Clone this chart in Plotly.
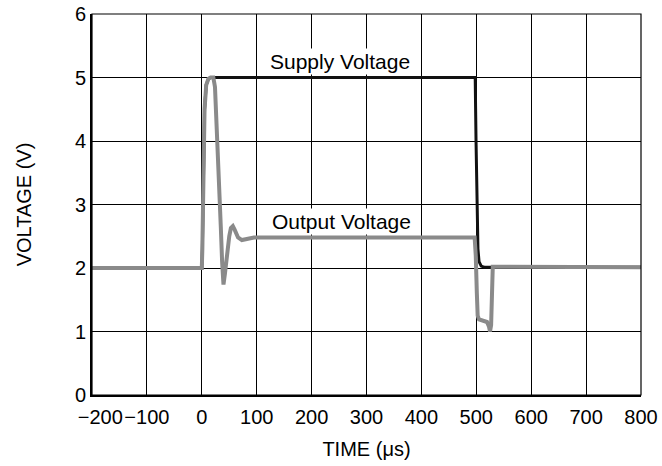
import plotly.graph_objects as go

# Data
supply_t = [-200, 0, 1, 3, 5, 8, 12, 16, 498, 499.5, 501, 503, 505, 509, 515, 800]
supply_v = [2.0, 2.0, 2.3, 3.5, 4.5, 4.88, 4.98, 5.0, 5.0, 4.0, 3.0, 2.3, 2.1, 2.03, 2.01, 2.01]

output_t = [-200, 0, 1, 3, 5, 8, 12, 16, 21, 24, 27, 30, 34.6, 37, 39.5, 42, 45.5, 50,
            53, 56.5, 60, 66, 73, 80, 85, 95, 497, 499, 501, 502.5, 505, 510.5, 519.5,
            523, 525, 527, 528.5, 530, 540, 800]
output_v = [2.0, 2.0, 2.3, 3.5, 4.5, 4.88, 4.98, 5.0, 5.0, 4.85, 4.3, 3.7, 2.65, 2.1, 1.74, 1.9,
            2.2, 2.5, 2.63, 2.66, 2.6, 2.48, 2.44, 2.45, 2.47, 2.48, 2.48, 2.2, 1.6, 1.25, 1.19,
            1.17, 1.15, 1.08, 1.0, 1.1, 1.6, 2.02, 2.02, 2.01]

x_ticks = [-200, -100, 0, 100, 200, 300, 400, 500, 600, 700, 800]
NB = "\u00a0"
x_ticktext = [NB * 3 + "\u2212200", "\u2212100", "0", "100", "200", "300",
              "400", "500", "600", "700", "800"]
y_ticks = [0, 1, 2, 3, 4, 5, 6]

FONT = "Liberation Sans, Arial, Helvetica, sans-serif"
FS = 20

fig = go.Figure()
fig.add_trace(go.Scatter(x=supply_t, y=supply_v, mode="lines",
                         line=dict(color="#111111", width=3), name="Supply Voltage",
                         hoverinfo="x+y"))
fig.add_trace(go.Scatter(x=output_t, y=output_v, mode="lines",
                         line=dict(color="#8a8a8a", width=4), name="Output Voltage",
                         hoverinfo="x+y"))

fig.add_annotation(x=252, y=5.25, text="Supply Voltage", showarrow=False,
                   bgcolor="white", font=dict(family=FONT, size=21, color="black"))
fig.add_annotation(x=254, y=2.73, text="Output Voltage", showarrow=False,
                   bgcolor="white", font=dict(family=FONT, size=21, color="black"))

fig.add_shape(type="rect", xref="paper", yref="paper", x0=0, y0=0, x1=1, y1=1,
              line=dict(color="black", width=1.2), layer="above")

fig.update_layout(
    width=662, height=466,
    margin=dict(l=92, r=21, t=14, b=71),
    paper_bgcolor="white", plot_bgcolor="white",
    showlegend=False,
    font=dict(family=FONT, size=FS, color="black"),
    xaxis=dict(range=[-200, 800], tickvals=x_ticks, ticktext=x_ticktext,
               tickangle=0,
               showgrid=True, gridcolor="black", gridwidth=1, zeroline=False,
               showline=True, linecolor="black", linewidth=2, ticks="",
               ticklabelstandoff=3, automargin=False,
               title=dict(text="TIME (\u03bcs)", font=dict(size=FS), standoff=15)),
    yaxis=dict(range=[0, 6], tickvals=y_ticks,
               showgrid=True, gridcolor="black", gridwidth=1, zeroline=False,
               showline=True, linecolor="black", linewidth=2, ticks="",
               ticklabelstandoff=0, automargin=False,
               title=dict(text="VOLTAGE (V)", font=dict(size=FS), standoff=38)),
)

# remove the default 8px page margin so the figure fills the window exactly
fig.write_html("out.html", config={"displayModeBar": False},
               post_script="document.body.style.margin='0';")
